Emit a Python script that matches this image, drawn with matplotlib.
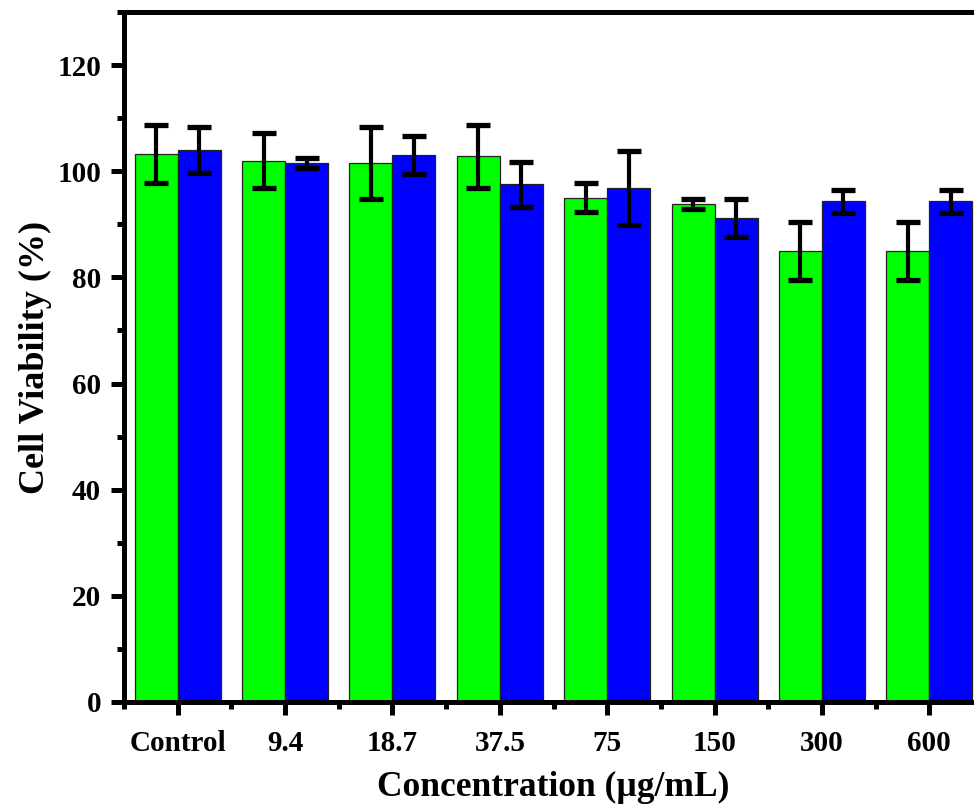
import numpy as np
import matplotlib
matplotlib.use("Agg")
import matplotlib.pyplot as plt
from matplotlib.ticker import MultipleLocator

categories = ["Control", "9.4", "18.7", "37.5", "75", "150", "300", "600"]
green_vals = [103.3, 102.0, 101.5, 102.8, 95.0, 93.8, 85.0, 85.0]
green_err = [5.5, 5.2, 6.8, 6.0, 2.7, 1.0, 5.4, 5.4]
blue_vals = [104.0, 101.5, 103.0, 97.5, 96.8, 91.2, 94.3, 94.3]
blue_err = [4.3, 0.9, 3.6, 4.2, 7.0, 3.5, 2.2, 2.2]

plt.rcParams["font.family"] = ["Liberation Serif", "DejaVu Serif"]
plt.rcParams["font.weight"] = "bold"

fig = plt.figure(figsize=(9.74, 8.08), dpi=100)
ax = fig.add_axes([124 / 974, 106 / 808, 859 / 974, 690 / 808])

x = np.arange(len(categories))
w = 0.4
err_kw = dict(elinewidth=3.0, capsize=8.5, capthick=3.8, ecolor="black")
ax.bar(x - w / 2, green_vals, w, yerr=green_err, color="#00FF00",
       edgecolor="#222222", linewidth=0.9, error_kw=err_kw)
ax.bar(x + w / 2, blue_vals, w, yerr=blue_err, color="#0000FF",
       edgecolor="#222222", linewidth=0.9, error_kw=err_kw)

ax.set_xlim(-0.5, len(categories) - 0.5)
ax.set_ylim(0, 130)
ax.set_xticks(x)
ax.set_xticklabels(categories)
ax.xaxis.set_minor_locator(MultipleLocator(1, offset=0.5))
ax.yaxis.set_major_locator(MultipleLocator(20))
ax.yaxis.set_minor_locator(MultipleLocator(10))

ax.tick_params(axis="both", which="major", direction="out", length=9.5,
               width=3.6, labelsize=21, pad=7)
ax.tick_params(axis="both", which="minor", direction="out", length=5,
               width=3.6)
ax.tick_params(axis="x", which="major", pad=11)
for lab in ax.get_xticklabels() + ax.get_yticklabels():
    lab.set_fontweight("bold")

for s in ax.spines.values():
    s.set_linewidth(3.6)

ax.set_xlabel("Concentration (µg/mL)", fontsize=25.5, fontweight="bold", labelpad=10)
ax.set_ylabel("Cell Viability (%)", fontsize=26, fontweight="bold", labelpad=4)

fig.savefig("out.png", dpi=100)
